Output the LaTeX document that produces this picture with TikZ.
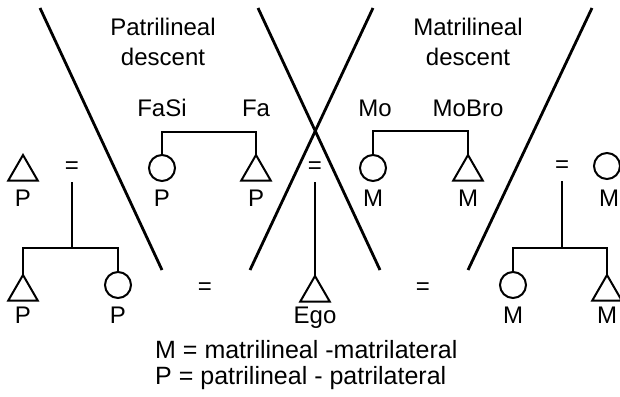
\documentclass[tikz,border=0pt]{standalone}
\usepackage{fontspec}
\setmainfont{Liberation Sans}
\usetikzlibrary{shapes.geometric}
\begin{document}
\begin{tikzpicture}[x=1pt,y=-1pt,
  txt/.style={font=\fontsize{24}{30}\selectfont, inner sep=0pt, align=center},
  legtxt/.style={font=\fontsize{25}{30}\selectfont, inner sep=0pt},
  tri/.style={draw, line width=2pt, regular polygon, regular polygon sides=3, minimum size=34pt, inner sep=0pt, outer sep=0pt},
  circ/.style={draw, line width=2pt, circle, minimum size=26pt, inner sep=0pt, outer sep=0pt},
  eqs/.style={font=\fontsize{24}{30}\selectfont, inner sep=0pt, minimum height=28pt},
  kin/.style={line width=1.9pt},
  slash/.style={line width=2.8pt}]
\useasboundingbox (0,0) rectangle (620,396);
% diagonal separators
\draw[slash] (40,8) -- (162,270);
\draw[slash] (258,8) -- (380,270);
\draw[slash] (373,8) -- (250,270);
\draw[slash] (592,8) -- (468,270);
% headings
\node[txt] (hP) at (163,42) {Patrilineal\\descent};
\node[txt] (hM) at (468,42) {Matrilineal\\descent};
% left group
\node[tri] (lt1) at (23,172) {};
\node[txt] (lt1l) at (23,198) {P};
\node[eqs] (eqL) at (72,168) {=};
\coordinate (jL) at (72,248);
\draw[kin] (eqL.south) -- (jL);
\node[tri] (lt2) at (23,292) {};
\node[txt] (lt2l) at (23,315) {P};
\node[circ] (lc2) at (118,285) {};
\node[txt] (lc2l) at (118,315) {P};
\draw[kin] (lt2.corner 1) |- (jL) -| (lc2.north);
% patrilineal
\node[txt] (fasi) at (162,108) {FaSi};
\node[txt] (fa) at (256,108) {Fa};
\node[circ] (pc) at (162,168) {};
\node[txt] (pcl) at (162,198) {P};
\node[tri] (pt) at (256,172) {};
\node[txt] (ptl) at (256,198) {P};
\draw[kin] (pc.north) -- ++(0,-23) -| (pt.corner 1);
% center
\node[eqs] (eqC) at (315,168) {=};
\node[tri] (ego) at (315,293) {};
\node[txt] (egol) at (315,318) {Ego};
\draw[kin] (eqC.south) -- (ego.corner 1);
\node[txt] (eqBL) at (205,289) {=};
\node[txt] (eqBR) at (423,289) {=};
% matrilineal
\node[txt] (mo) at (375,108) {Mo};
\node[txt] (mobro) at (468,108) {MoBro};
\node[circ] (mc) at (373,168) {};
\node[txt] (mcl) at (373,198) {M};
\node[tri] (mt) at (468,172) {};
\node[txt] (mtl) at (468,198) {M};
\draw[kin] (mc.north) -- ++(0,-24) -| (mt.corner 1);
% right group
\node[eqs] (eqR) at (562,167) {=};
\node[circ] (rc1) at (607,166) {};
\node[txt] (rc1l) at (609,198) {M};
\coordinate (jR) at (562,248);
\draw[kin] (eqR.south) -- (jR);
\node[circ] (rc2) at (513,285) {};
\node[txt] (rc2l) at (513,315) {M};
\node[tri] (rt2) at (607,292) {};
\node[txt] (rt2l) at (607,315) {M};
\draw[kin] (rc2.north) |- (jR) -| (rt2.corner 1);
% legend
\node[legtxt, anchor=west] (leg1) at (155,350) {M = matrilineal -matrilateral};
\node[legtxt, anchor=west] (leg2) at (155,378) {P = patrilineal - patrilateral};
\end{tikzpicture}
\end{document}
